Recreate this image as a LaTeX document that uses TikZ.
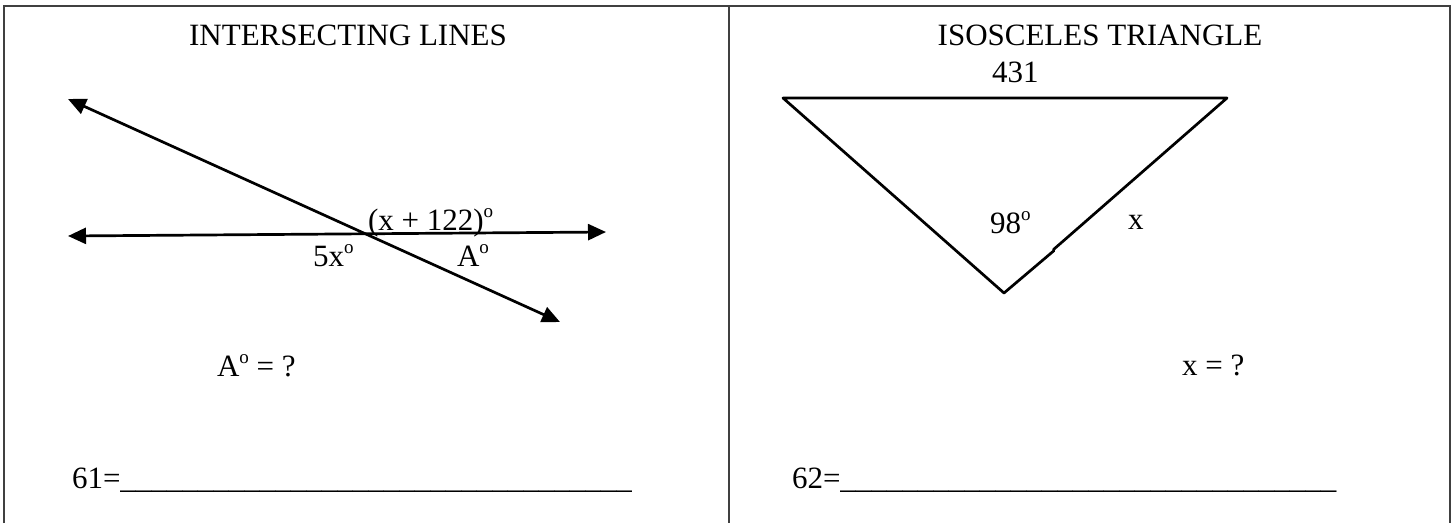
\documentclass[tikz,border=0pt]{standalone}
\usepackage{fontspec}
\setmainfont{Liberation Serif}
\usetikzlibrary{arrows.meta}
\newcommand{\degsym}{\raisebox{12.5pt}{\fontsize{19}{19}\selectfont o}}
\newcommand{\blanksA}{\_\_\_\_\_\_\_\_\_\_\_\_\_\_\_\_\_\_\_\_\_\_\_\_\_\_\_\_\_\_\_\_\_}
\newcommand{\blanksB}{\_\_\_\_\_\_\_\_\_\_\_\_\_\_\_\_\_\_\_\_\_\_\_\_\_\_\_\_\_\_\_\_}
\begin{document}
\begin{tikzpicture}[x=1pt,y=-1pt,
  txt/.style={inner sep=0pt,outer sep=0pt,anchor=base west,font=\fontsize{31}{36}\selectfont},
  ttl/.style={inner sep=0pt,outer sep=0pt,anchor=base,font=\fontsize{31}{36}\selectfont},
  frame/.style={draw=black!75,line width=1.4pt},
  ray/.style={line width=2.7pt,{Triangle[length=18pt,width=16pt]}-{Triangle[length=18pt,width=16pt]}},
  side/.style={line width=2.7pt,line cap=round,line join=round}]
\useasboundingbox (0,0) rectangle (1455,523);
% frame
\coordinate (fTL) at (4,6);
\coordinate (fTR) at (1450,6);
\coordinate (fBL) at (4,523);
\coordinate (fBR) at (1450,523);
\coordinate (dT) at (729,6);
\coordinate (dB) at (729,523);
\draw[frame] (fBL) -- (fTL) -- (fTR) -- (fBR);
\draw[frame] (dT) -- (dB);
% left panel
\node[ttl] (t1) at (348,45) {INTERSECTING LINES};
\coordinate (l1a) at (68,99);
\coordinate (l1b) at (560,322);
\coordinate (l2a) at (68,236);
\coordinate (l2b) at (606,232);
\draw[ray] (l1a) -- (l1b);
\draw[ray] (l2a) -- (l2b);
\node[txt] (ang1) at (368,230) {(x + 122)\degsym};
\node[txt] (ang2) at (313,266) {5x\degsym};
\node[txt] (ang3) at (457,266) {A\degsym};
\node[txt] (q1) at (217,376) {A\degsym{} = ?};
\node[txt] (a1) at (72,488) {61=\blanksA};
% right panel
\node[ttl] (t2) at (1100,45) {ISOSCELES TRIANGLE};
\node[txt] (base) at (992,82) {431};
\coordinate (tl) at (783,98);
\coordinate (tr) at (1227,98);
\coordinate (bt) at (1004,293);
\coordinate (jogA) at (1054,250.6);
\coordinate (jogB) at (1053.4,249.6);
\draw[side] (jogB) -- (tr) -- (tl) -- (bt) -- (jogA);
\node[txt] (apex) at (990,233) {98\degsym};
\node[txt] (xs) at (1128,229) {x};
\node[txt] (q2) at (1182,375) {x = ?};
\node[txt] (a2) at (792,488) {62=\blanksB};
\end{tikzpicture}
\end{document}
